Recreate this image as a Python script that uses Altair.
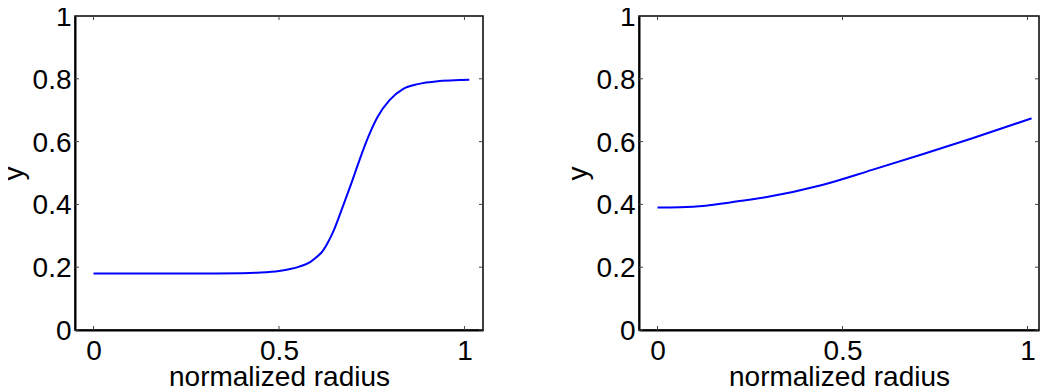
import altair as alt
import pandas as pd

# ---- data ----
left_x = [0, 0.1, 0.2, 0.3, 0.4, 0.45, 0.5, 0.53, 0.555, 0.585, 0.6, 0.614, 0.63, 0.645,
          0.672, 0.695, 0.717, 0.739, 0.766, 0.798, 0.834, 0.874, 0.933, 0.987, 1.013]
left_y = [0.180, 0.180, 0.180, 0.180, 0.181, 0.183, 0.188, 0.194, 0.202, 0.217, 0.231,
          0.246, 0.275, 0.310, 0.393, 0.467, 0.541, 0.610, 0.679, 0.732, 0.767, 0.783,
          0.793, 0.796, 0.797]

right_x = [0, 0.06, 0.13, 0.2, 0.292, 0.445, 0.58, 0.714, 0.849, 1.011]
right_y = [0.390, 0.391, 0.396, 0.407, 0.423, 0.462, 0.510, 0.559, 0.610, 0.674]

x_ticks = [0, 0.5, 1]
y_ticks = [0, 0.2, 0.4, 0.6, 0.8, 1]
x_title = "normalized radius"
y_title = "y"

FONT = "Liberation Sans"
FS = 28
H = 314
LABEL_EXPR = "datum.value == 0 ? '0' : datum.value == 1 ? '1' : format(datum.value, '.1f')"

X_AXIS = alt.Axis(title=x_title, values=x_ticks, ticks=False, tickSize=0,
                  labelFont=FONT, labelFontSize=FS, labelColor="#000",
                  labelBaseline="alphabetic", labelPadding=29,
                  labelExpr=LABEL_EXPR,
                  titleFont=FONT, titleFontSize=FS, titleFontWeight="normal",
                  titleColor="#000", titleBaseline="alphabetic", titleY=55,
                  domainColor="#000", domainWidth=2, grid=False,
                  labelFlush=False, labelOverlap=False)
Y_AXIS = alt.Axis(title=y_title, values=y_ticks, ticks=False, tickSize=0,
                  labelFont=FONT, labelFontSize=FS, labelColor="#000",
                  labelPadding=4, labelAlign="right", labelBaseline="middle",
                  labelOffset=1.5,
                  labelExpr=LABEL_EXPR,
                  titleFont=FONT, titleFontSize=FS, titleFontWeight="normal",
                  titleColor="#000", titleBaseline="alphabetic", titleAngle=270,
                  titleAlign="center", titleX=-52.5, titleY=H / 2,
                  domainColor="#000", domainWidth=2, grid=False,
                  labelFlush=False, labelOverlap=False)


def panel(xs, ys, width, xmax):
    xscale = alt.Scale(domain=[-0.05, xmax], nice=False, zero=False)
    yscale = alt.Scale(domain=[0, 1], nice=False)
    df = pd.DataFrame({"x": xs, "y": ys})
    line = alt.Chart(df).mark_line(color="#0000FF", strokeWidth=2, interpolate="monotone").encode(
        x=alt.X("x:Q", scale=xscale, axis=X_AXIS),
        y=alt.Y("y:Q", scale=yscale, axis=Y_AXIS),
    )
    xt = pd.DataFrame({"x": x_ticks})
    yt = pd.DataFrame({"y": y_ticks})
    tick_color = "#444"
    xb = alt.Chart(xt).mark_rule(color=tick_color, strokeWidth=1).encode(
        x=alt.X("x:Q", scale=xscale, axis=X_AXIS), y=alt.value(H), y2=alt.value(H - 4))
    xtop = alt.Chart(xt).mark_rule(color=tick_color, strokeWidth=1).encode(
        x=alt.X("x:Q", scale=xscale, axis=X_AXIS), y=alt.value(0), y2=alt.value(4))
    yl = alt.Chart(yt).mark_rule(color=tick_color, strokeWidth=1).encode(
        y=alt.Y("y:Q", scale=yscale, axis=Y_AXIS), x=alt.value(0), x2=alt.value(4))
    yr = alt.Chart(yt).mark_rule(color=tick_color, strokeWidth=1).encode(
        y=alt.Y("y:Q", scale=yscale, axis=Y_AXIS), x=alt.value(width), x2=alt.value(width - 4))
    return alt.layer(line, xb, xtop, yl, yr).properties(width=width, height=H)


left = panel(left_x, left_y, 408, 1.05)
right = panel(right_x, right_y, 400, 1.031)

chart = alt.hconcat(left, right, spacing=156, bounds="flush").properties(
    padding={"left": -9, "top": -6, "right": -1, "bottom": 1},
    background="white",
).configure_view(stroke="#000", strokeWidth=1.5)

chart.save("out.html", embed_options={"renderer": "svg", "actions": False})
